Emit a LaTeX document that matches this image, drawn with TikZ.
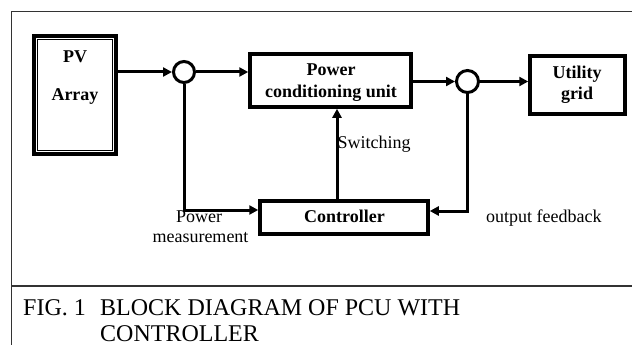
\documentclass[tikz,border=0pt]{standalone}
\usepackage{fontspec}
\setmainfont{Liberation Serif}
\usetikzlibrary{arrows.meta}
\begin{document}
\begin{tikzpicture}[x=1pt,y=-1pt,
  blk/.style={draw, line width=3.5pt, inner sep=0pt},
  sumpt/.style={draw, circle, line width=3pt, inner sep=0pt},
  conn/.style={line width=3pt, -{Triangle[length=9pt,width=9pt]}},
  frame/.style={draw=black!80, line width=1.5pt},
  btxt/.style={font=\fontsize{18}{22}\selectfont\bfseries, inner sep=0pt, anchor=base},
  ltxt/.style={font=\fontsize{18}{22}\selectfont, inner sep=0pt},
  ctxt/.style={font=\fontsize{24}{27}\selectfont, inner sep=0pt, anchor=base west}]
\useasboundingbox (0,0) rectangle (632,345);
% outer frame
\draw[frame] (632,11.5) -- (11.5,11.5) -- (11.5,345);
\draw[frame] (11.5,286) -- (632,286);
% blocks
\node[blk, minimum width=82pt, minimum height=118pt] (pv) at (75,95) {};
\draw[line width=1.3pt] ([shift={(5.5,5.5)}]pv.north west) rectangle ([shift={(-5.5,-5.5)}]pv.south east);
\node[blk, minimum width=161pt, minimum height=53pt] (pcu) at (330.5,80.5) {};
\node[blk, minimum width=95pt, minimum height=58pt] (util) at (577.5,85) {};
\node[blk, minimum width=168pt, minimum height=33pt] (ctrl) at (344,217.5) {};
\node[sumpt, minimum size=21pt] (c1) at (184,72) {};
\node[sumpt, minimum size=22pt] (c2) at (467.5,81.5) {};
% block texts
\node[btxt] (pvt1) at (75,63) {PV};
\node[btxt] (pvt2) at (75,100) {Array};
\node[btxt] (pcut1) at (331,76) {Power};
\node[btxt] (pcut2) at (331,98) {conditioning unit};
\node[btxt] (ut1) at (577,78) {Utility};
\node[btxt] (ut2) at (577,99.5) {grid};
\node[btxt] (ctt) at (344.5,222) {Controller};
% connectors
\draw[conn] (pv.east |- c1) -- (c1.west);
\draw[conn] (c1.east) -- (c1.east -| pcu.west);
\draw[conn] (pcu.east |- c2) -- (c2.west);
\draw[conn] (c2.east) -- (c2.east -| util.west);
\draw[conn] (c1.south) |- ([yshift=7.5pt]ctrl.west);
\draw[conn] (c2.south) |- ([yshift=6.5pt]ctrl.east);
\coordinate (sw) at ([xshift=-7pt]ctrl.north);
\draw[conn] (sw) -- (sw |- pcu.south);
% labels
\node[ltxt, anchor=base west] (lsw) at (337.5,148) {Switching};
\node[ltxt, anchor=base] (lpm1) at (199,222) {Power};
\node[ltxt, anchor=base] (lpm2) at (200.5,242) {measurement};
\node[ltxt, anchor=base west] (lof) at (486,222) {output feedback};
% caption
\node[ctxt] (cap1) at (23,315) {FIG. 1};
\node[ctxt] (cap2) at (100,315) {BLOCK DIAGRAM OF PCU WITH};
\node[ctxt] (cap3) at (100,341) {CONTROLLER};
\end{tikzpicture}
\end{document}
